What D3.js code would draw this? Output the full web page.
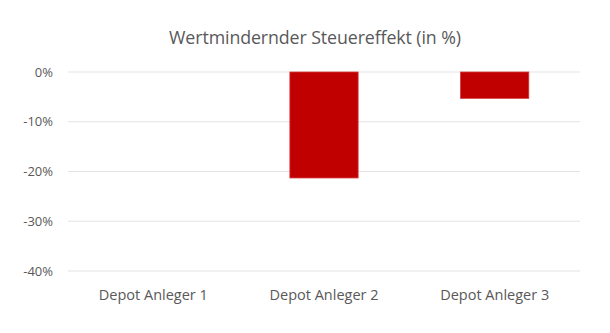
<!DOCTYPE html>
<html>
<head>
<meta charset="utf-8">
<script src="https://cdn.jsdelivr.net/npm/d3@7"></script>
<style>
  html, body { margin: 0; padding: 0; background: #fff; }
  svg { display: block; font-family: "Open Sans", sans-serif; }
</style>
</head>
<body>
<svg id="chart" width="610" height="333"></svg>
<script>
const title = "Wertmindernder Steuereffekt (in %)";
const categories = ["Depot Anleger 1", "Depot Anleger 2", "Depot Anleger 3"];
const values = [0, -21.3, -5.3];
const yTicks = [0, -10, -20, -30, -40];

const svg = d3.select("#chart");
const margin = { left: 68, right: 30, top: 72, bottom: 62 };
const W = 610, H = 333;

const x = d3.scaleBand()
  .domain(categories)
  .range([margin.left, W - margin.right])
  .paddingInner(0.6)
  .paddingOuter(0.3);

const y = d3.scaleLinear()
  .domain([0, -40])
  .range([margin.top, H - margin.bottom]);

svg.append("text")
  .attr("x", 315)
  .attr("y", 44)
  .attr("text-anchor", "middle")
  .attr("fill", "#595959")
  .attr("font-size", 17.8)
  .attr("letter-spacing", -0.1)
  .text(title);

// horizontal gridlines
svg.append("g")
  .selectAll("line")
  .data(yTicks)
  .join("line")
  .attr("x1", margin.left)
  .attr("x2", W - margin.right)
  .attr("y1", d => y(d))
  .attr("y2", d => y(d))
  .attr("stroke", "#e3e3e3")
  .attr("stroke-width", 1.2);

// y axis labels
const yAxis = d3.axisLeft(y).tickValues(yTicks).tickSize(0).tickPadding(0)
  .tickFormat(d => d + "%");
svg.append("g")
  .attr("transform", `translate(${margin.left - 15},0)`)
  .call(yAxis)
  .call(g => g.select(".domain").remove())
  .call(g => g.selectAll("text")
    .attr("fill", "#595959")
    .attr("font-size", 13)
    .attr("font-family", "'Open Sans', sans-serif"));

// bars
svg.append("g")
  .selectAll("rect")
  .data(categories.map((c, i) => ({ c, v: values[i] })))
  .join("rect")
  .attr("x", d => x(d.c))
  .attr("width", x.bandwidth())
  .attr("y", d => y(Math.max(0, d.v)))
  .attr("height", d => Math.abs(y(d.v) - y(0)))
  .attr("fill", "#c00000")
  .attr("stroke", d => d.v === 0 ? "none" : "#d43a3a")
  .attr("stroke-width", 0.8);

// x axis labels
const xAxis = d3.axisBottom(x).tickSize(0).tickPadding(0);
svg.append("g")
  .attr("transform", `translate(0,${y(-40) + 19})`)
  .call(xAxis)
  .call(g => g.select(".domain").remove())
  .call(g => g.selectAll("text")
    .attr("fill", "#595959")
    .attr("font-size", 14.5)
    .attr("font-family", "'Open Sans', sans-serif"));
</script>
</body>
</html>
